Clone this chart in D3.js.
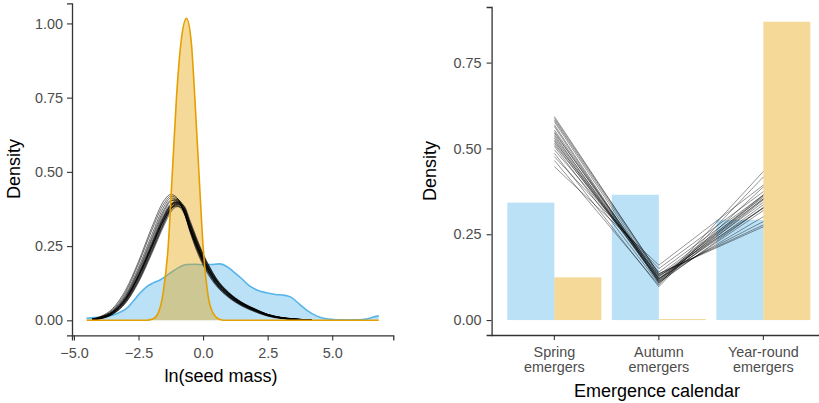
<!DOCTYPE html>
<html><head><meta charset="utf-8">
<script src="https://cdn.jsdelivr.net/npm/d3@7"></script>
<style>
html,body{margin:0;padding:0;background:#fff;}
svg{display:block;font-family:"Liberation Sans",Arial,sans-serif;}
</style></head>
<body>
<svg id="chart" width="819" height="403"></svg>
<script>
// ---------- Left panel data: ln(seed mass) densities ----------
const blueX = [-4.51,-4.2,-3.87,-3.48,-3.2,-2.96,-2.7,-2.45,-2.19,-1.93,-1.67,-1.29,-0.9,-0.64,-0.3,0.0,0.3,0.64,0.9,1.16,1.5,1.81,2.15,2.45,2.8,3.1,3.4,3.74,4.05,4.39,4.7,5.03,5.4,5.67,6.0,6.32,6.56,6.8];
const blueY = [0.007,0.009,0.012,0.018,0.028,0.040,0.065,0.091,0.113,0.126,0.136,0.158,0.180,0.188,0.189,0.187,0.188,0.190,0.182,0.165,0.140,0.115,0.100,0.093,0.087,0.085,0.078,0.054,0.032,0.015,0.006,0.003,0.002,0.002,0.002,0.004,0.010,0.015];

const orangeX = [-4.51,-2.2,-1.93,-1.74,-1.55,-1.35,-1.2,-1.03,-0.85,-0.64,-0.45,-0.32,-0.15,0.0,0.2,0.39,0.65,0.9,6.8];
const orangeY = [0,0,0.005,0.024,0.09,0.25,0.48,0.75,0.94,1.017,0.93,0.75,0.48,0.25,0.08,0.024,0.003,0,0];

const postGridX = [-4.3,-4.0,-3.5,-3.0,-2.5,-2.0,-1.5,-1.25,-1.0,-0.75,-0.5,-0.25,0.0,0.25,0.5,1.0,1.5,2.0,2.5,3.0,3.5,4.2];
const postDensities = [
 [0.004,0.011,0.036,0.095,0.19,0.30,0.395,0.418,0.41,0.37,0.30,0.24,0.19,0.15,0.12,0.078,0.05,0.03,0.015,0.007,0.003,0.001],
 [0.004,0.010,0.033,0.088,0.178,0.285,0.385,0.412,0.405,0.37,0.305,0.245,0.195,0.155,0.123,0.08,0.052,0.032,0.016,0.008,0.003,0.001],
 [0.003,0.009,0.030,0.08,0.165,0.268,0.368,0.402,0.408,0.378,0.312,0.252,0.2,0.16,0.127,0.083,0.054,0.034,0.017,0.008,0.004,0.001],
 [0.003,0.008,0.028,0.075,0.155,0.255,0.355,0.39,0.40,0.375,0.31,0.255,0.205,0.165,0.13,0.085,0.055,0.035,0.018,0.009,0.004,0.001],
 [0.003,0.007,0.026,0.07,0.148,0.247,0.348,0.388,0.405,0.385,0.322,0.262,0.21,0.168,0.133,0.087,0.056,0.036,0.018,0.009,0.004,0.001],
 [0.002,0.006,0.023,0.064,0.138,0.235,0.335,0.377,0.394,0.382,0.325,0.268,0.216,0.173,0.137,0.089,0.058,0.037,0.019,0.009,0.004,0.001],
 [0.002,0.006,0.022,0.062,0.135,0.23,0.33,0.372,0.39,0.378,0.323,0.268,0.218,0.176,0.14,0.092,0.06,0.038,0.02,0.01,0.005,0.001],
 [0.002,0.005,0.02,0.058,0.128,0.222,0.322,0.365,0.383,0.378,0.328,0.273,0.222,0.18,0.143,0.094,0.061,0.039,0.02,0.01,0.005,0.001],
 [0.003,0.008,0.027,0.073,0.152,0.25,0.35,0.385,0.395,0.37,0.308,0.252,0.203,0.163,0.129,0.085,0.055,0.035,0.018,0.009,0.004,0.001],
 [0.003,0.007,0.025,0.068,0.145,0.242,0.34,0.375,0.387,0.367,0.31,0.256,0.208,0.168,0.134,0.088,0.057,0.036,0.019,0.009,0.004,0.001],
 [0.002,0.007,0.026,0.072,0.152,0.252,0.352,0.388,0.398,0.372,0.312,0.254,0.2,0.158,0.124,0.08,0.051,0.032,0.016,0.008,0.003,0.001],
 [0.003,0.008,0.029,0.077,0.16,0.26,0.36,0.392,0.397,0.368,0.305,0.248,0.198,0.158,0.125,0.082,0.053,0.033,0.017,0.008,0.004,0.001],
 [0.002,0.006,0.024,0.066,0.142,0.24,0.342,0.383,0.399,0.384,0.325,0.266,0.213,0.17,0.135,0.088,0.057,0.036,0.018,0.009,0.004,0.001],
 [0.003,0.009,0.031,0.083,0.17,0.275,0.375,0.404,0.402,0.368,0.302,0.244,0.195,0.156,0.124,0.081,0.052,0.033,0.017,0.008,0.004,0.001],
 [0.003,0.007,0.025,0.069,0.147,0.245,0.343,0.379,0.391,0.372,0.315,0.259,0.21,0.17,0.136,0.09,0.059,0.038,0.02,0.01,0.005,0.001],
 [0.003,0.008,0.027,0.072,0.15,0.246,0.342,0.376,0.385,0.362,0.305,0.252,0.206,0.167,0.134,0.09,0.059,0.038,0.02,0.01,0.005,0.001],
 [0.005,0.012,0.04,0.102,0.198,0.31,0.405,0.424,0.412,0.368,0.296,0.235,0.186,0.147,0.117,0.076,0.048,0.029,0.014,0.006,0.003,0.001],
 [0.002,0.005,0.021,0.06,0.132,0.228,0.33,0.374,0.393,0.387,0.335,0.277,0.224,0.18,0.142,0.092,0.059,0.037,0.019,0.009,0.004,0.001]
];
const leftXTicks = [-5.0,-2.5,0.0,2.5,5.0];
const leftYTicks = [0.00,0.25,0.50,0.75,1.00];

// ---------- Right panel data: emergence calendar ----------
const calendars = ["Spring emergers","Autumn emergers","Year-round emergers"];
const calendarLabelLines = [["Spring","emergers"],["Autumn","emergers"],["Year-round","emergers"]];
const blueShare = [0.342,0.365,0.292];
const orangeShare = [0.1245,0.003,0.869];
const postSpring = [0.593,0.588,0.583,0.578,0.569,0.564,0.554,0.549,0.545,0.540,0.535,0.530,0.525,0.521,0.516,0.511,0.506,0.496,0.486,0.476,0.465,0.447];
const postAutumn = [0.135,0.135,0.130,0.121,0.112,0.108,0.120,0.115,0.128,0.110,0.122,0.117,0.113,0.126,0.119,0.131,0.106,0.140,0.097,0.150,0.102,0.160];
const postYear   = [0.272,0.277,0.287,0.301,0.319,0.328,0.326,0.336,0.327,0.350,0.343,0.353,0.362,0.353,0.365,0.358,0.388,0.364,0.417,0.374,0.433,0.393];
const rightYTicks = [0.00,0.25,0.50,0.75];

const BLUE = "#56B4E9", ORANGE = "#E69F00";
const AXIS_COL = "#333333", TICK_TXT = "#4D4D4D";

const svg = d3.select("#chart");

function styleAxis(g){
  g.select(".domain").attr("stroke",AXIS_COL).attr("stroke-width",1.3);
  g.selectAll(".tick line").attr("stroke",AXIS_COL).attr("stroke-width",1.1);
  g.selectAll(".tick text").attr("fill",TICK_TXT).style("font-size","14.4px").style("font-family","'Liberation Sans',Arial,sans-serif");
}

// ================= LEFT PANEL =================
const xL = d3.scaleLinear().domain([-5.075, 7.365]).range([72, 393.3]);
const yL = d3.scaleLinear().domain([-0.0508, 1.0678]).range([335.4, 3.3]);

const left = svg.append("g");
const areaL = (xs) => d3.area().x((d,i)=>xL(xs[i])).y0(yL(0)).y1(d=>yL(d)).curve(d3.curveMonotoneX);
const lineL = (xs) => d3.line().x((d,i)=>xL(xs[i])).y(d=>yL(d)).curve(d3.curveMonotoneX);

left.append("path").datum(blueY).attr("d",areaL(blueX)).attr("fill",BLUE).attr("fill-opacity",0.4);
left.append("path").datum(blueY).attr("d",lineL(blueX)).attr("fill","none").attr("stroke",BLUE).attr("stroke-width",1.6);
left.append("path").datum(orangeY).attr("d",areaL(orangeX)).attr("fill",ORANGE).attr("fill-opacity",0.4);

left.append("g").selectAll("path").data(postDensities).join("path")
  .attr("d",lineL(postGridX)).attr("fill","none").attr("stroke","#000").attr("stroke-width",0.7).attr("stroke-opacity",0.8);

left.append("path").datum(orangeY).attr("d",lineL(orangeX)).attr("fill","none").attr("stroke",ORANGE).attr("stroke-width",1.6);

const gxL = left.append("g").attr("transform",`translate(0,${yL(-0.0508)})`)
  .call(d3.axisBottom(xL).tickValues(leftXTicks).tickFormat(d3.format(".1f")).tickSizeOuter(0).tickSize(5).tickPadding(7));
styleAxis(gxL);
const gyL = left.append("g").attr("transform",`translate(${xL(-5.075)},0)`)
  .call(d3.axisLeft(yL).tickValues(leftYTicks).tickFormat(d3.format(".2f")).tickSizeOuter(0).tickSize(5).tickPadding(4));
styleAxis(gyL);

left.append("text").attr("x",221).attr("y",382).attr("text-anchor","middle")
  .style("font-size","18px").attr("fill","#000").text("ln(seed mass)");
left.append("text").attr("transform","translate(19.6,169) rotate(-90)").attr("text-anchor","middle")
  .style("font-size","18px").attr("fill","#000").text("Density");

// ================= RIGHT PANEL =================
const xR = d3.scaleBand().domain(calendars).range([502.1, 815.6]).paddingInner(0.1).paddingOuter(0.05);
const xSub = d3.scaleBand().domain(["blue","orange"]).range([0, xR.bandwidth()]);
const yR = d3.scaleLinear().domain([-0.0435, 0.912]).range([335, 7]);

const right = svg.append("g");
const barData = calendars.map((c,i)=>[{c,k:"blue",v:blueShare[i]},{c,k:"orange",v:orangeShare[i]}]).flat();
right.append("g").selectAll("rect").data(barData).join("rect")
  .attr("x",d=>xR(d.c)+xSub(d.k)).attr("width",xSub.bandwidth())
  .attr("y",d=>yR(d.v)).attr("height",d=>yR(0)-yR(d.v))
  .attr("fill",d=>d.k==="blue"?BLUE:ORANGE).attr("fill-opacity",0.4);

const lineData = postSpring.map((s,i)=>[s,postAutumn[i],postYear[i]]);
const lineR = d3.line().x((d,i)=>xR(calendars[i])+xR.bandwidth()/2).y(d=>yR(d));
right.append("g").selectAll("path").data(lineData).join("path")
  .attr("d",lineR).attr("fill","none").attr("stroke","#000").attr("stroke-width",0.65).attr("stroke-opacity",0.65);

const gxR = right.append("g").attr("transform",`translate(0,${yR(-0.0435)})`)
  .call(d3.axisBottom(xR).tickSizeOuter(0).tickSize(5).tickFormat(""));
gxR.select(".domain").attr("d",`M491.6,0.5H830`);
styleAxis(gxR);
gxR.selectAll(".tick").each(function(d,i){
  const t = d3.select(this).append("text").attr("text-anchor","middle").attr("fill",TICK_TXT)
    .style("font-size","14.4px");
  calendarLabelLines[i].forEach((ln,j)=>{
    t.append("tspan").attr("x",0).attr("y",21.7 + j*15).text(ln);
  });
});
const gyR = right.append("g").attr("transform",`translate(491.6,0)`)
  .call(d3.axisLeft(yR).tickValues(rightYTicks).tickFormat(d3.format(".2f")).tickSizeOuter(0).tickSize(5).tickPadding(5));
styleAxis(gyR);

right.append("text").attr("x",657).attr("y",396.5).attr("text-anchor","middle")
  .style("font-size","18px").attr("fill","#000").text("Emergence calendar");
right.append("text").attr("transform","translate(436,171) rotate(-90)").attr("text-anchor","middle")
  .style("font-size","18px").attr("fill","#000").text("Density");
</script>
</body></html>
